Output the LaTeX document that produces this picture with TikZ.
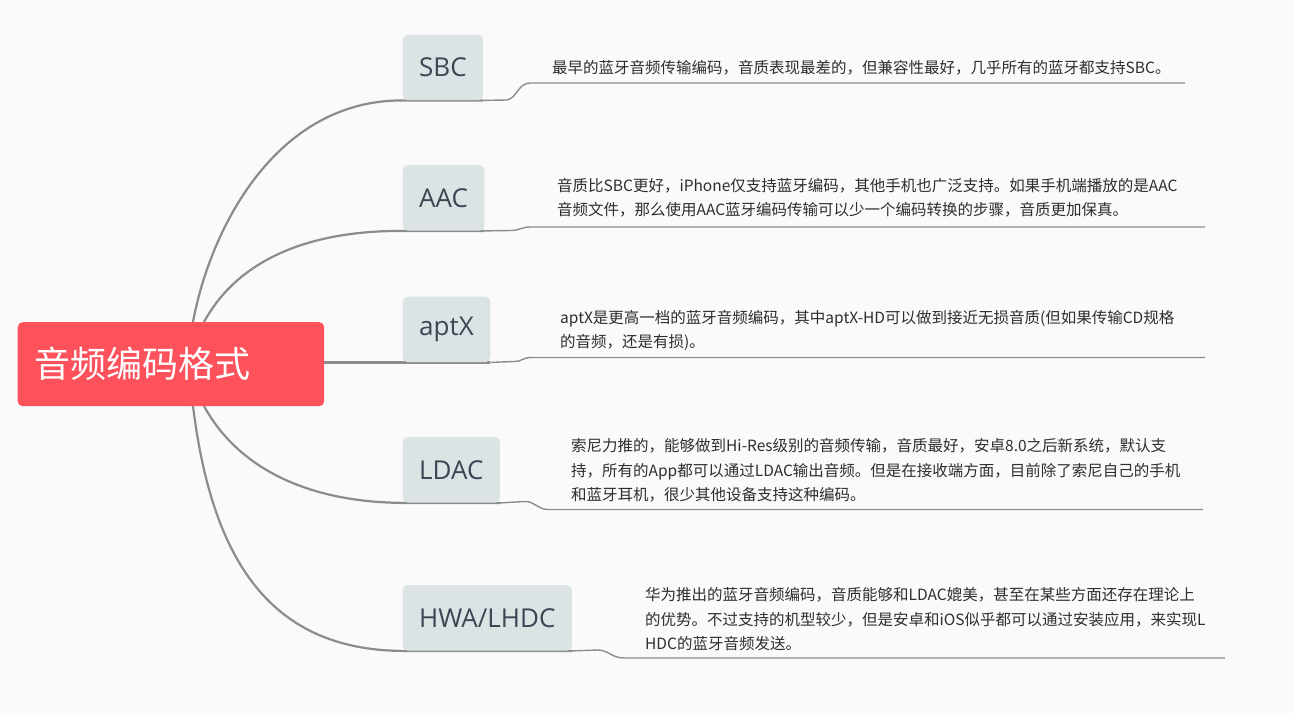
\documentclass[tikz,border=0pt]{standalone}
\usepackage{fontspec}
\setmainfont{Open Sans}
\newfontfamily\cjk{Noto Sans CJK SC}
\definecolor{bgc}{HTML}{FAFAFA}
\definecolor{rootc}{HTML}{FD525C}
\definecolor{boxc}{HTML}{DCE3E5}
\definecolor{labc}{HTML}{3C4653}
\definecolor{descc}{HTML}{2E2E2E}
\definecolor{linec}{HTML}{8C8C8C}
\pgfdeclarelayer{bgfill}
\pgfdeclarelayer{lines}
\pgfsetlayers{bgfill,lines,main}
\tikzset{
  rootbox/.style={fill=rootc, rounded corners=5pt, anchor=north west, text=white,
    font=\cjk\fontsize{36}{40}\selectfont, minimum height=84pt, text width=273.5pt,
    inner xsep=16.5pt, inner ysep=0pt, align=left},
  catbox/.style={fill=boxc, rounded corners=5pt, anchor=north west, text=labc,
    font=\fontsize{26}{30}\selectfont, minimum height=65.5pt, inner xsep=16.5pt, inner ysep=0pt},
  desc/.style={anchor=north west, inner sep=0pt, text=descc, align=left,
    font=\cjk\fontsize{15.5}{24.5}\selectfont},
  branch/.style={draw=linec, line width=2.2pt},
  uline/.style={draw=linec, line width=1.4pt},
}
\begin{document}
\begin{tikzpicture}[x=1pt,y=-1pt]
\begin{pgfonlayer}{bgfill}
\fill[bgc] (0,0) rectangle (1294,713);
\end{pgfonlayer}
\useasboundingbox (0,0) rectangle (1294,713);
% nodes
\node[rootbox] (root) at (17.5,322) {音频编码格式};
\node[catbox] (sbc) at (402.5,34.5) {SBC};
\node[catbox] (aac) at (402.5,165) {AAC};
\node[catbox] (aptx) at (402.5,296.5) {aptX};
\node[catbox] (ldac) at (402.5,437) {LDAC};
\node[catbox] (hwa) at (402.5,585) {HWA/LHDC};
\node[desc] (dsbc) at (552,56.5) {\strut 最早的蓝牙音频传输编码，音质表现最差的，但兼容性最好，几乎所有的蓝牙都支持SBC。};
\node[desc] (daac) at (557,174) {\strut 音质比SBC更好，iPhone仅支持蓝牙编码，其他手机也广泛支持。如果手机端播放的是AAC\\音频文件，那么使用AAC蓝牙编码传输可以少一个编码转换的步骤，音质更加保真。};
\node[desc] (daptx) at (560,306) {\strut aptX是更高一档的蓝牙音频编码，其中aptX-HD可以做到接近无损音质(但如果传输CD规格\\的音频，还是有损)。};
\node[desc] (dldac) at (571,434.5) {\strut 索尼力推的，能够做到Hi-Res级别的音频传输，音质最好，安卓8.0之后新系统，默认支\\持，所有的App都可以通过LDAC输出音频。但是在接收端方面，目前除了索尼自己的手机\\和蓝牙耳机，很少其他设备支持这种编码。};
\node[desc] (dhwa) at (645,583.5) {\strut 华为推出的蓝牙音频编码，音质能够和LDAC媲美，甚至在某些方面还存在理论上\\的优势。不过支持的机型较少，但是安卓和iOS似乎都可以通过安装应用，来实现L\\HDC的蓝牙音频发送。};
% underline coordinates
\coordinate (s1) at (506,100);   \coordinate (s2) at (530,83);  \coordinate (s3) at (1185,83);
\coordinate (a1) at (511,230.5); \coordinate (a2) at (530,227); \coordinate (a3) at (1205,227);
\coordinate (p1) at (514,361.5); \coordinate (p2) at (531,357.5); \coordinate (p3) at (1205,357.5);
\coordinate (l1) at (525,501.5); \coordinate (l2) at (548,509.5); \coordinate (l3) at (1203,509.5);
\coordinate (h1) at (598,650); \coordinate (h2) at (624,658); \coordinate (h3) at (1225,658);
\coordinate (rs) at (193,322); \coordinate (ra) at (204,322);
\coordinate (rl) at (204,406); \coordinate (rh) at (193,406);
\begin{pgfonlayer}{lines}
% branches from root
\path[branch] (rs) .. controls (210,230) and (275,100) .. (sbc.south west) -- (sbc.south east);
\path[branch] (ra) .. controls (235,265) and (300,230.5) .. (aac.south west) -- (aac.south east);
\path[branch] (root.east |- aptx.south) -- (aptx.south west) -- (aptx.south east);
\path[branch] (rl) .. controls (235,463) and (300,502) .. (ldac.south west) -- (ldac.south east);
\path[branch] (rh) .. controls (212,560) and (270,650) .. (hwa.south west) -- (hwa.south east);
% underlines
\path[uline] (sbc.south east) -- (s1) .. controls +(10,0) and +(-12,0) .. (s2) -- (s3);
\path[uline] (aac.south east) -- (a1) .. controls +(8,0) and +(-8,0) .. (a2) -- (a3);
\path[uline] (aptx.south east) -- (p1) .. controls +(8,0) and +(-8,0) .. (p2) -- (p3);
\path[uline] (ldac.south east) -- (l1) .. controls +(10,0) and +(-10,0) .. (l2) -- (l3);
\path[uline] (hwa.south east) -- (h1) .. controls +(10,0) and +(-12,0) .. (h2) -- (h3);
\end{pgfonlayer}
\end{tikzpicture}
\end{document}
